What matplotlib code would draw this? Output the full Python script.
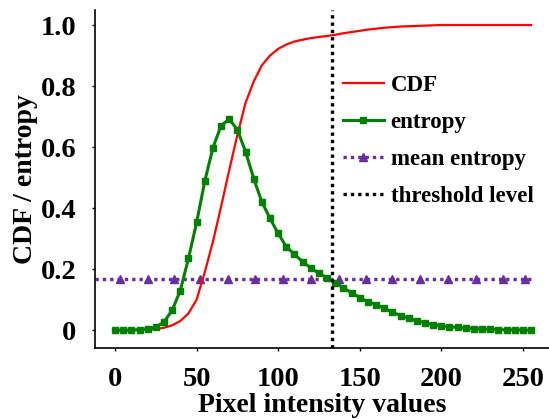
import matplotlib
matplotlib.use("Agg")
import matplotlib.pyplot as plt
import numpy as np

plt.rcParams['font.family'] = ['Liberation Serif', 'DejaVu Serif']
plt.rcParams['font.weight'] = 'bold'

# pixel intensity samples (every 5 levels)
x = np.arange(0, 256, 5)

entropy = [0.0, 0.0, 0.0, 0.002, 0.005, 0.01, 0.027, 0.065, 0.13, 0.235,
           0.353, 0.488, 0.598, 0.67, 0.692, 0.656, 0.585, 0.497, 0.42, 0.366,
           0.317, 0.273, 0.249, 0.224, 0.204, 0.186, 0.172, 0.156, 0.139, 0.122,
           0.107, 0.093, 0.084, 0.072, 0.059, 0.048, 0.039, 0.031, 0.024, 0.018,
           0.014, 0.011, 0.009, 0.007, 0.005, 0.004, 0.003, 0.002, 0.001, 0.001,
           0.0, 0.0]

cdf = [0.0, 0.0, 0.0, 0.001, 0.002, 0.004, 0.008, 0.016, 0.03, 0.055,
       0.1, 0.19, 0.29, 0.405, 0.525, 0.64, 0.745, 0.815, 0.868, 0.9,
       0.922, 0.936, 0.946, 0.952, 0.957, 0.961, 0.964, 0.968, 0.973, 0.977,
       0.981, 0.985, 0.988, 0.991, 0.993, 0.995, 0.996, 0.997, 0.998, 0.999,
       1.0, 1.0, 1.0, 1.0, 1.0, 1.0, 1.0, 1.0, 1.0, 1.0,
       1.0, 1.0]

mean_entropy = 0.167
mean_x = [-12, 3, 20, 36, 52, 69, 86, 103, 120, 137, 154, 170, 187, 204, 221, 238, 251, 256]
threshold = 133

xticks = [0, 50, 100, 150, 200, 250]
yticks = [0, 0.2, 0.4, 0.6, 0.8, 1.0]
ytick_labels = ['0', '0.2', '0.4', '0.6', '0.8', '1.0']

fig = plt.figure(figsize=(5.49, 4.19), dpi=100)
ax = fig.add_axes([0.173, 0.169, 0.827, 0.807])

ax.plot(x, cdf, color='#ff0000', lw=1.6, label='CDF', zorder=3)
ax.plot(x, entropy, color='#008000', lw=2.2, marker='s', markersize=3.8,
        label='entropy', zorder=4)
ax.plot(mean_x, [mean_entropy] * len(mean_x), color='#6a2ea0', lw=2.4,
        linestyle=(0, (1, 1.2)), marker='^', markersize=5.5,
        markevery=list(range(1, len(mean_x) - 1)), label='mean entropy', zorder=2)
ax.axvline(threshold, color='black', lw=2.4, linestyle=(0, (1, 1.2)),
           label='threshold level', zorder=5)

ax.set_xlim(-12.3, 266)
ax.set_ylim(-0.059, 1.049)
ax.set_xticks(xticks)
ax.set_yticks(yticks)
ax.set_yticklabels(ytick_labels)
ax.tick_params(direction='out', length=2.5, width=1, labelsize=20.5, pad=11)
for lab in ax.get_xticklabels() + ax.get_yticklabels():
    lab.set_fontweight('bold')

ax.spines['top'].set_visible(False)
ax.spines['right'].set_visible(False)
ax.spines['left'].set_linewidth(1.2)
ax.spines['bottom'].set_linewidth(1.2)

ax.set_xlabel('Pixel intensity values', fontsize=20, fontweight='bold', labelpad=1)
ax.set_ylabel('CDF / entropy', fontsize=20, fontweight='bold', labelpad=2)

leg = ax.legend(loc='upper left', bbox_to_anchor=(0.525, 0.835), frameon=False,
                fontsize=16.5, handlelength=1.8, handletextpad=0.3,
                labelspacing=0.7, borderaxespad=0)

fig.savefig('out.png', dpi=100)
